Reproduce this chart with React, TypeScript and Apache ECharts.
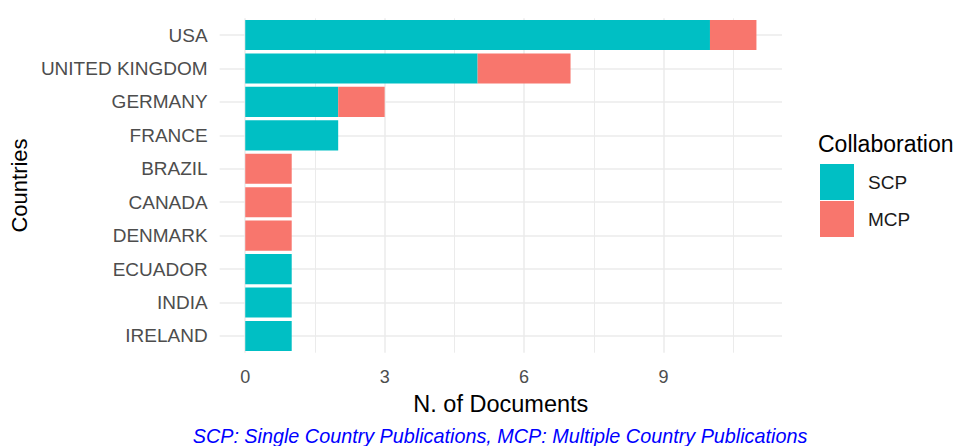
import React, { useEffect, useRef } from "react";
import * as echarts from "echarts";

const countries = ["USA", "UNITED KINGDOM", "GERMANY", "FRANCE", "BRAZIL", "CANADA", "DENMARK", "ECUADOR", "INDIA", "IRELAND"];
const scpValues = [10, 5, 2, 2, 0, 0, 0, 1, 1, 1];
const mcpValues = [1, 2, 1, 0, 1, 1, 1, 0, 0, 0];
const xTickLabels = [0, 3, 6, 9];
const xMinorLines = [1.5, 4.5, 7.5, 10.5];
const seriesNames = ["SCP", "MCP"];
const captionText = "SCP: Single Country Publications, MCP: Multiple Country Publications";

const FONT = "'Liberation Sans', Arial, sans-serif";
const SCP_COLOR = "#00BFC4";
const MCP_COLOR = "#F8766D";
const GRID_COLOR = "#EBEBEB";

export default function App() {
  const ref = useRef<HTMLDivElement>(null);
  useEffect(() => {
    if (!ref.current) return;
    const chart = echarts.init(ref.current, null, { renderer: "svg" });
    const option: any = {
      animation: false,
      backgroundColor: "#FFFFFF",
      textStyle: { fontFamily: FONT },
      grid: { left: 218, right: 175, top: 18.3, bottom: 93.3, containLabel: false },
      xAxis: {
        type: "value",
        min: -0.55,
        max: 11.55,
        axisLine: { show: false },
        axisTick: { show: false },
        splitLine: { show: false },
        axisLabel: {
          customValues: xTickLabels,
          color: "#4D4D4D",
          fontSize: 18,
          fontFamily: FONT,
          margin: 15,
        },
        name: "N. of Documents",
        nameLocation: "middle",
        nameGap: 39,
        nameTextStyle: { fontSize: 23.5, color: "#000000", fontFamily: FONT },
      },
      yAxis: {
        type: "category",
        data: countries,
        inverse: true,
        axisLine: { show: false },
        axisTick: { show: false },
        splitLine: { show: false },
        axisLabel: { color: "#4D4D4D", fontSize: 19, fontFamily: FONT, margin: 12 },
        name: "Countries",
        nameLocation: "middle",
        nameGap: 185,
        nameRotate: 90,
        nameTextStyle: { fontSize: 22, color: "#000000", fontFamily: FONT },
      },
      legend: {
        orient: "vertical",
        left: 820,
        top: 164,
        padding: 0,
        itemWidth: 34,
        itemHeight: 36,
        itemGap: 1,
        icon: "rect",
        selectedMode: false,
        data: seriesNames,
        textStyle: { fontSize: 19, color: "#1A1A1A", fontFamily: FONT, padding: [0, 0, 0, 9] },
      },
      graphic: [
        {
          type: "text",
          left: 818,
          top: 132,
          style: { text: "Collaboration", font: `23px ${FONT}`, fill: "#000000" },
        },
        {
          type: "text",
          x: 500,
          y: 435.5,
          style: {
            text: captionText,
            font: `italic 19.8px ${FONT}`,
            fill: "#0000FF",
            textAlign: "center",
            textVerticalAlign: "middle",
          },
        },
      ],
      series: [
        {
          type: "line",
          name: "grid",
          data: [],
          silent: true,
          markLine: {
            silent: true,
            z: 1,
            symbol: ["none", "none"],
            label: { show: false },
            animation: false,
            data: [
              ...xTickLabels.map((v) => ({ xAxis: v, lineStyle: { color: GRID_COLOR, width: 1.5, type: "solid" } })),
              ...xMinorLines.map((v) => ({ xAxis: v, lineStyle: { color: GRID_COLOR, width: 1, type: "solid" } })),
              ...countries.map((c) => ({ yAxis: c, lineStyle: { color: GRID_COLOR, width: 1.5, type: "solid" } })),
            ],
          },
        },
        {
          type: "bar",
          name: seriesNames[0],
          stack: "total",
          data: scpValues,
          barWidth: "90%",
          itemStyle: { color: SCP_COLOR },
          z: 2,
        },
        {
          type: "bar",
          name: seriesNames[1],
          stack: "total",
          data: mcpValues,
          barWidth: "90%",
          itemStyle: { color: MCP_COLOR },
          z: 2,
        },
      ],
    };
    chart.setOption(option);
    return () => chart.dispose();
  }, []);
  return (
    <div
      ref={ref}
      style={{ position: "fixed", left: 0, top: 0, width: 957, height: 446, background: "#fff" }}
    />
  );
}
